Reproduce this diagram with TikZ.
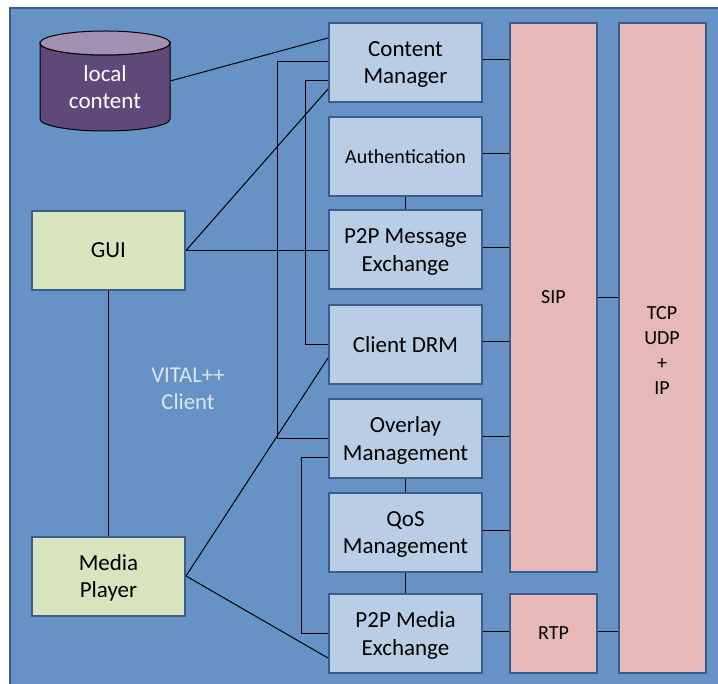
\documentclass[tikz,border=0pt]{standalone}
\usepackage{fontspec}
\setmainfont{Carlito}
\usetikzlibrary{calc}

\definecolor{bgblue}{RGB}{103,146,198}
\definecolor{edgeblue}{RGB}{56,93,138}
\definecolor{modfill}{RGB}{185,205,229}
\definecolor{appfill}{RGB}{215,228,189}
\definecolor{protofill}{RGB}{230,185,184}
\definecolor{cylbody}{RGB}{95,73,122}
\definecolor{cyltop}{RGB}{161,144,178}
\definecolor{paletext}{RGB}{220,230,242}

\tikzset{
  boxbase/.style={draw=edgeblue, line width=1.5pt, align=center, inner sep=0pt,
    font=\fontsize{17.25}{20.5}\selectfont},
  module/.style={boxbase, fill=modfill, minimum width=114.75pt, minimum height=59.25pt},
  app/.style={boxbase, fill=appfill, minimum width=114.75pt, minimum height=59.25pt},
  proto/.style={boxbase, fill=protofill, minimum width=65.25pt,
    font=\fontsize{15}{18.75}\selectfont},
  link/.style={draw=black, line width=0.75pt},
}

\begin{document}
\begin{tikzpicture}[x=0.75pt, y=-0.75pt]
\useasboundingbox (0,0) rectangle (718,684);
\clip (0,0) rectangle (718,684);

% client frame
\filldraw[fill=bgblue, draw=edgeblue, line width=2pt] (10,8) rectangle (740,710);

% local content store
\filldraw[fill=cylbody, draw=black, line width=0.75pt]
  (40,43) -- (40,119) arc[start angle=180, end angle=0, x radius=65, y radius=12]
  -- (170,43) arc[start angle=0, end angle=180, x radius=65, y radius=12] -- cycle;
\filldraw[fill=cyltop, draw=black, line width=0.75pt] (105,43) ellipse[x radius=65, y radius=12];
\node[minimum width=97.5pt, minimum height=75pt, inner sep=0pt] (local) at (105,81) {};
\node[align=center, text=white, font=\fontsize{17.25}{20.5}\selectfont] (localtext)
  at (105,87) {local\\content};

% module column (descenders of the last line kept out of the centring)
\node[module] (cm)   at (405.5,62.5)  {Content\\\smash{Manager}};
\node[module, font=\fontsize{15}{18}\selectfont] (auth) at (405.5,156.5) {Authentication};
\node[module] (msg)  at (405.5,250)   {P2P Message\\\smash{Exchange}};
\node[module] (drm)  at (405.5,344.5) {Client DRM};
\node[module] (ovl)  at (405.5,438.5) {Overlay\\\smash{Management}};
\node[module] (qos)  at (405.5,532.5) {QoS\\\smash{Management}};
\node[module] (pme)  at (405.5,633.5) {P2P Media\\\smash{Exchange}};

% applications
\node[app] (gui)   at (108.5,250.5) {GUI};
\node[app] (media) at (108.5,576)   {Media\\\smash{Player}};

% protocol stack
\node[proto, minimum height=411.75pt] (sip) at (553.5,297.5) {SIP};
\node[proto, minimum height=59.25pt]  (rtp) at (553.5,633.5) {RTP};
\node[proto, minimum height=487.5pt, font=\fontsize{15}{18.6}\selectfont] (tcp) at (662,348)
  {\rule{0pt}{13.5pt}TCP\\UDP\\+\\IP};

\node[text=paletext, align=center, font=\fontsize{17}{20.5}\selectfont] (label) at (188,389)
  {VITAL++\\Client};

% links from the applications and the store
\draw[link] (local.east) -- ($(cm.west)+(0,-24.5)$);
\draw[link] (gui.east) -- ($(cm.west)+(0,26.5)$);
\draw[link] (gui.east) -- (gui.east -| msg.west);
\draw[link] (gui.south) -- (media.north);
\draw[link] (media.east) -- ($(drm.west)+(0,13.5)$);
\draw[link] (media.east) -- ($(pme.west)+(0,24.5)$);

% links between modules
\draw[link] ($(cm.west)+(0,-0.5)$) -- ++(-51,0) |- (ovl.west);
\draw[link] ($(cm.west)+(0,18.5)$) -- ++(-23,0) |- (drm.west);
\draw[link] ($(ovl.west)+(0,18.5)$) -- ++(-27,0) |- (pme.west);
\draw[link] (auth.south) -- (msg.north);
\draw[link] (ovl.south) -- (qos.north);
\draw[link] (qos.south) -- (pme.north);

% links into the protocol stack
\foreach \m in {cm,auth,msg,drm,ovl,qos}
  \draw[link] ($(\m.east)+(0,-2.5)$) -- ($(\m.east -| sip.west)+(0,-2.5)$);
\draw[link] ($(pme.east)+(0,-2)$) -- ($(rtp.west)+(0,-2)$);
\draw[link] (sip.east) -- (sip.east -| tcp.west);
\draw[link] ($(rtp.east)+(0,-2)$) -- ($(rtp.east -| tcp.west)+(0,-2)$);
\end{tikzpicture}
\end{document}
